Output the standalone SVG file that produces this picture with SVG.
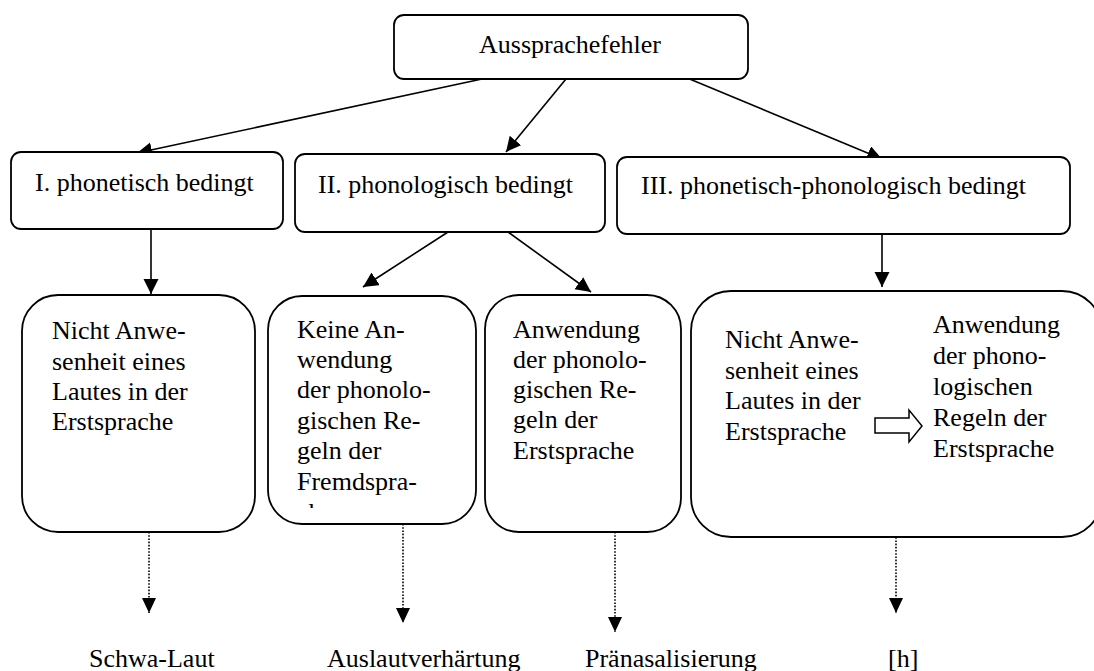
<svg xmlns="http://www.w3.org/2000/svg" width="1094" height="671" viewBox="0 0 1094 671">
<style>
.box{fill:#fff;stroke:#000;stroke-width:1.8}
.t text{font-size:26px;fill:#000}
.solid{stroke:#000;stroke-width:1.6;fill:none;marker-end:url(#ah)}
.dot{stroke:#000;stroke-width:1.6;fill:none;stroke-dasharray:1.6 1.6;marker-end:url(#ahs)}
</style>
<defs>
<marker id="ah" markerUnits="userSpaceOnUse" markerWidth="16" markerHeight="16" refX="15" refY="7.5" orient="auto">
<path d="M0,0 L15,7.5 L0,15 z" fill="#000"/>
</marker>
<marker id="ahs" markerUnits="userSpaceOnUse" markerWidth="16" markerHeight="16" refX="15" refY="7" orient="auto">
<path d="M0,0 L15,7 L0,14 z" fill="#000"/>
</marker>
<clipPath id="clipB"><rect x="268" y="296" width="208" height="212"/></clipPath>
</defs>

<g id="connectors">
<line class="solid" x1="482" y1="79" x2="137" y2="153"/>
<line class="solid" x1="566" y1="79" x2="506" y2="152"/>
<line class="solid" x1="680" y1="75" x2="882" y2="159"/>
<line class="solid" x1="151" y1="229" x2="151" y2="294"/>
<line class="solid" x1="448" y1="232" x2="363" y2="287"/>
<line class="solid" x1="508" y1="232" x2="591" y2="292"/>
<line class="solid" x1="882" y1="231" x2="882" y2="287"/>
<line class="dot" x1="149" y1="532" x2="149" y2="613"/>
<line class="dot" x1="403" y1="524" x2="403" y2="623"/>
<line class="dot" x1="615" y1="532" x2="615" y2="632"/>
<line class="dot" x1="896" y1="518" x2="896" y2="613"/>
</g>

<g class="t" font-family="'Liberation Serif', 'Times New Roman', Tinos, 'DejaVu Serif', serif">
<g id="root">
<rect class="box" x="394" y="15" width="354" height="64" rx="10"/>
<text x="479" y="53">Aussprachefehler</text>
</g>

<g id="n1">
<rect class="box" x="11" y="152" width="272" height="77" rx="10"/>
<text x="35" y="191">I. phonetisch bedingt</text>
</g>

<g id="n2">
<rect class="box" x="295" y="154" width="310" height="78" rx="10"/>
<text x="318" y="193">II. phonologisch bedingt</text>
</g>

<g id="n3">
<rect class="box" x="617" y="157" width="453" height="77" rx="10"/>
<text x="641" y="194">III. phonetisch-phonologisch bedingt</text>
</g>

<g id="nA">
<rect class="box" x="22" y="295" width="233" height="237" rx="36"/>
<text x="52" y="339">Nicht Anwe-</text>
<text x="52" y="370">senheit eines</text>
<text x="52" y="400">Lautes in der</text>
<text x="52" y="430">Erstsprache</text>
</g>

<g id="nB">
<rect class="box" x="268" y="296" width="208" height="228" rx="34"/>
<g clip-path="url(#clipB)">
<text x="297" y="338">Keine An-</text>
<text x="297" y="368">wendung</text>
<text x="297" y="398">der phonolo-</text>
<text x="297" y="429">gischen Re-</text>
<text x="297" y="459">geln der</text>
<text x="297" y="490">Fremdspra-</text>
<text x="297" y="521">che</text>
</g>
</g>

<g id="nC">
<rect class="box" x="485" y="295" width="196" height="237" rx="34"/>
<text x="513" y="338">Anwendung</text>
<text x="513" y="368">der phonolo-</text>
<text x="513" y="398">gischen Re-</text>
<text x="513" y="428">geln der</text>
<text x="513" y="459">Erstsprache</text>
</g>

<g id="nD">
<rect class="box" x="691" y="291" width="411" height="246" rx="40"/>
<text x="725" y="348">Nicht Anwe-</text>
<text x="725" y="379">senheit eines</text>
<text x="725" y="409">Lautes in der</text>
<text x="725" y="440">Erstsprache</text>
<path d="M875,418 H909 V410 L922,426 L909,442 V433 H875 Z" fill="#fff" stroke="#000" stroke-width="1.5"/>
<text x="933" y="333">Anwendung</text>
<text x="933" y="364">der phono-</text>
<text x="933" y="395">logischen</text>
<text x="933" y="426">Regeln der</text>
<text x="933" y="457">Erstsprache</text>
</g>

<g id="labels">
<text x="89" y="667">Schwa-Laut</text>
<text x="327" y="667">Auslautverhärtung</text>
<text x="585" y="667">Pränasalisierung</text>
<text x="888" y="667">[h]</text>
</g>
</g>
</svg>
